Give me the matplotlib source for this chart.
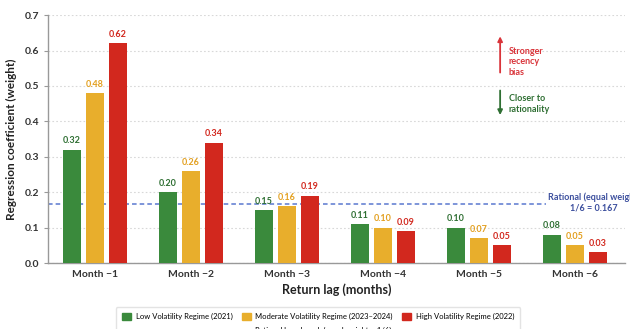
import matplotlib.pyplot as plt
import numpy as np
from matplotlib import rcParams
from matplotlib.lines import Line2D
from matplotlib.patches import Patch

# Regression weights per return lag, one series per volatility regime
lags = ['Month −1', 'Month −2', 'Month −3', 'Month −4', 'Month −5', 'Month −6']
low_vol = [0.32, 0.20, 0.15, 0.11, 0.10, 0.08]
mod_vol = [0.48, 0.26, 0.16, 0.10, 0.07, 0.05]
high_vol = [0.62, 0.34, 0.19, 0.09, 0.05, 0.03]
series_names = ['Low Volatility Regime (2021)',
                'Moderate Volatility Regime (2023–2024)',
                'High Volatility Regime (2022)']
rational = 1 / 6

rcParams['font.family'] = ['Lato', 'DejaVu Sans']

bar_colors = ['#3a8a3c', '#e8ae2c', '#d2281e']
text_colors = ['#2f6f33', '#e3a020', '#d2281e']

fig = plt.figure(figsize=(6.3, 3.29), dpi=100)
ax = fig.add_axes([0.076, 0.2006, 0.916, 0.7534])

x = np.arange(len(lags))
width = 0.18
offset = 0.24
for i, vals in enumerate([low_vol, mod_vol, high_vol]):
    pos = x + (i - 1) * offset
    ax.bar(pos, vals, width, color=bar_colors[i], zorder=3)
    for px, v in zip(pos, vals):
        ax.text(px, v + 0.012, f'{v:.2f}', ha='center', va='bottom',
                fontsize=6.5, fontweight='bold', color=text_colors[i])

# equal-weight benchmark
ax.axhline(rational, color='#5a78d0', linestyle=(0, (3, 2)), linewidth=1.1, zorder=2)
ax.text(5.2, rational - 0.024, 'Rational (equal weight)\n1/6 = 0.167', ha='center', va='bottom',
        fontsize=6.5, fontweight='bold', color='#3c4f9e', linespacing=1.25,
        bbox=dict(facecolor='white', edgecolor='none', pad=1.5), zorder=4)

# direction hints
ax.annotate('', xy=(4.22, 0.648), xytext=(4.22, 0.53),
            arrowprops=dict(arrowstyle='-|>', color='#d9343a', lw=1.3, mutation_scale=7))
ax.annotate('', xy=(4.22, 0.41), xytext=(4.22, 0.495),
            arrowprops=dict(arrowstyle='-|>', color='#2f6f33', lw=1.3, mutation_scale=7))
ax.text(4.31, 0.568, 'Stronger\nrecency\nbias', ha='left', va='center', fontsize=6.5,
        fontweight='bold', color='#d9343a', linespacing=1.25)
ax.text(4.31, 0.449, 'Closer to\nrationality', ha='left', va='center', fontsize=6.5,
        fontweight='bold', color='#2f6f33', linespacing=1.25)

ax.set_xlim(-0.49, 5.52)
ax.set_ylim(0, 0.7)
ax.set_xticks(x)
ax.set_xticklabels(lags, fontweight='bold', fontsize=7.5)
ax.set_yticks(np.arange(0, 0.71, 0.1))
ax.set_yticklabels([f'{t:.1f}' for t in np.arange(0, 0.71, 0.1)], fontweight='bold', fontsize=7.5)
ax.tick_params(axis='x', length=0, pad=5, colors='#333333')
ax.tick_params(axis='y', length=3, color='#999999', colors='#333333', pad=3)
ax.grid(axis='y', linestyle=(0, (1.5, 2)), color='#d8d8d8', linewidth=0.8, zorder=0)
for side in ['top', 'right']:
    ax.spines[side].set_visible(False)
for side in ['left', 'bottom']:
    ax.spines[side].set_color('#999999')
    ax.spines[side].set_linewidth(1.0)

ax.set_xlabel('Return lag (months)', fontsize=9, fontweight='bold', color='#222222', labelpad=3)
ax.set_ylabel('Regression coefficient (weight)', fontsize=8.5, fontweight='bold',
              color='#222222', labelpad=6)

blank = Patch(facecolor='none', edgecolor='none')
handles = [Patch(color=bar_colors[0]), blank,
           Patch(color=bar_colors[1]),
           Line2D([], [], color='#5a78d0', linestyle=(0, (3, 2)), linewidth=1.1),
           Patch(color=bar_colors[2]), blank]
labels = [series_names[0], '', series_names[1],
          'Rational benchmark (equal weight = 1/6)', series_names[2], '']
fig.legend(handles, labels, loc='upper center', bbox_to_anchor=(0.505, 0.078), ncol=3,
           fontsize=5.5, frameon=True, edgecolor='#dddddd', fancybox=True,
           handlelength=1.2, handleheight=0.9, handletextpad=0.6,
           columnspacing=1.2, borderpad=0.8, labelspacing=0.8)

fig.savefig('out.png', dpi=100, facecolor='white')
